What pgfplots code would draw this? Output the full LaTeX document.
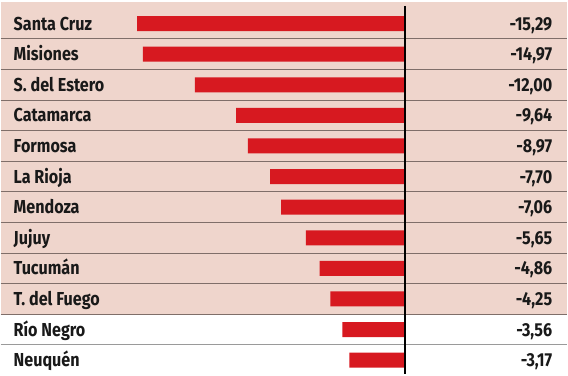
\documentclass[border=0pt]{standalone}
\usepackage{pgfplots}
\pgfplotsset{compat=1.18}
\usepackage{fontspec}
\setmainfont{Fira Sans}[FakeStretch=0.86]
\definecolor{barred}{HTML}{D71920}
\definecolor{bgpink}{HTML}{EFD5CC}
\definecolor{sepline}{HTML}{7F6E69}
\definecolor{sepgray}{HTML}{9A9A9A}
\newcommand{\lf}{\fontsize{18.8}{20}\selectfont\bfseries}
\tikzset{
  nm/.style={anchor=base west, yshift=-6.5pt, inner sep=0pt, text=black!90, font=\lf},
  vl/.style={anchor=base east, yshift=-6.5pt, inner sep=0pt, text=black!90, font=\lf},
}
\begin{document}
\begin{tikzpicture}
\begin{axis}[
  width=568pt, height=375pt, scale only axis,
  xmin=-23.1, xmax=9.3, ymin=-0.77, ymax=11.46, y dir=reverse,
  axis lines=none, ticks=none, clip=false,
  bar width=0.49,
]
\path (axis cs:-23.1,-0.77) rectangle (axis cs:9.3,11.46);
\fill[bgpink] (axis cs:-23.1,-0.705) rectangle (axis cs:9.3,9.5);
\pgfplotsinvokeforeach{0.5,1.5,2.5,3.5,4.5,5.5,6.5,7.5,8.5,9.5}{
  \draw[sepline, line width=1.1pt] (axis cs:-23.1,#1) -- (axis cs:9.3,#1);
}
\draw[sepgray, line width=1.1pt] (axis cs:-23.1,10.5) -- (axis cs:9.3,10.5);
\addplot[xbar, fill=barred, draw=none] coordinates {
  (-15.29,0) (-14.97,1) (-12.00,2) (-9.64,3) (-8.97,4) (-7.70,5)
  (-7.06,6) (-5.65,7) (-4.86,8) (-4.25,9) (-3.56,10) (-3.17,11)
};
\draw[black, line width=1.8pt] (axis cs:0,-0.575) -- (axis cs:0,11.46);
\node[nm] at (axis cs:-22.36,0) {Santa Cruz};
\node[nm] at (axis cs:-22.36,1) {Misiones};
\node[nm] at (axis cs:-22.36,2) {S. del Estero};
\node[nm] at (axis cs:-22.36,3) {Catamarca};
\node[nm] at (axis cs:-22.36,4) {Formosa};
\node[nm] at (axis cs:-22.36,5) {La Rioja};
\node[nm] at (axis cs:-22.36,6) {Mendoza};
\node[nm] at (axis cs:-22.36,7) {Jujuy};
\node[nm] at (axis cs:-22.36,8) {Tucumán};
\node[nm] at (axis cs:-22.36,9) {T. del Fuego};
\node[nm] at (axis cs:-22.36,10) {Río Negro};
\node[nm] at (axis cs:-22.36,11) {Neuquén};
\node[vl] at (axis cs:8.44,0) {-15,29};
\node[vl] at (axis cs:8.44,1) {-14,97};
\node[vl] at (axis cs:8.44,2) {-12,00};
\node[vl] at (axis cs:8.44,3) {-9,64};
\node[vl] at (axis cs:8.44,4) {-8,97};
\node[vl] at (axis cs:8.44,5) {-7,70};
\node[vl] at (axis cs:8.44,6) {-7,06};
\node[vl] at (axis cs:8.44,7) {-5,65};
\node[vl] at (axis cs:8.44,8) {-4,86};
\node[vl] at (axis cs:8.44,9) {-4,25};
\node[vl] at (axis cs:8.44,10) {-3,56};
\node[vl] at (axis cs:8.44,11) {-3,17};
\end{axis}
\end{tikzpicture}
\end{document}
